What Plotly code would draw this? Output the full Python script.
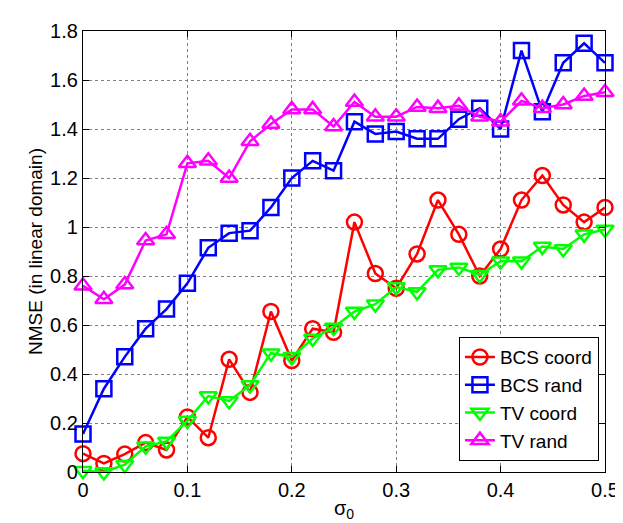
import plotly.graph_objects as go

sigma = [0.00, 0.02, 0.04, 0.06, 0.08, 0.10, 0.12, 0.14, 0.16, 0.18, 0.20, 0.22, 0.24,
         0.26, 0.28, 0.30, 0.32, 0.34, 0.36, 0.38, 0.40, 0.42, 0.44, 0.46, 0.48, 0.50]

bcs_coord = [0.075, 0.035, 0.073, 0.12, 0.09, 0.225, 0.14, 0.46, 0.325, 0.655, 0.455, 0.585, 0.57,
             1.02, 0.81, 0.75, 0.89, 1.11, 0.97, 0.80, 0.91, 1.11, 1.21, 1.09, 1.02, 1.08]
bcs_rand = [0.155, 0.34, 0.47, 0.585, 0.665, 0.77, 0.915, 0.975, 0.985, 1.08, 1.20, 1.27, 1.23,
            1.43, 1.38, 1.39, 1.36, 1.36, 1.44, 1.485, 1.40, 1.72, 1.47, 1.67, 1.75, 1.67]
tv_coord = [0.005, 0.0, 0.03, 0.105, 0.125, 0.21, 0.31, 0.29, 0.355, 0.485, 0.47, 0.545, 0.59,
            0.655, 0.685, 0.755, 0.735, 0.825, 0.835, 0.805, 0.86, 0.86, 0.92, 0.91, 0.97, 0.99]
tv_rand = [0.76, 0.705, 0.765, 0.945, 0.97, 1.26, 1.27, 1.20, 1.35, 1.42, 1.48, 1.48, 1.41,
           1.51, 1.45, 1.45, 1.49, 1.485, 1.495, 1.45, 1.43, 1.515, 1.485, 1.50, 1.535, 1.55]

series = [
    ("BCS coord", bcs_coord, "#FF0000", "circle-open"),
    ("BCS rand", bcs_rand, "#0000FF", "square-open"),
    ("TV coord", tv_coord, "#00FF00", "triangle-down-open"),
    ("TV rand", tv_rand, "#FF00FF", "triangle-up-open"),
]

fig = go.Figure()
for name, ys, color, sym in series:
    fig.add_trace(go.Scatter(
        x=sigma, y=ys, name=name, mode="lines+markers",
        line=dict(color=color, width=2.5),
        marker=dict(symbol=sym, size=15, color=color, line=dict(width=2.5, color=color)),
        cliponaxis=False,
    ))

axis_common = dict(
    showline=True, linecolor="black", linewidth=1.2, mirror="allticks",
    ticks="inside", ticklen=6, tickcolor="black",
    showgrid=True, gridcolor="#808080", griddash="dot", gridwidth=1,
    zeroline=False,
    tickfont=dict(family="Liberation Sans, Arial", size=20, color="black"),
)

fig.update_layout(
    width=623, height=523,
    margin=dict(l=75, r=16, t=13, b=59),
    plot_bgcolor="white", paper_bgcolor="white",
    font=dict(family="Liberation Sans, Arial", color="black"),
    xaxis=dict(range=[0, 0.5], tickvals=[0, 0.1, 0.2, 0.3, 0.4, 0.5],
               title=dict(text="σ<sub>0</sub>", font=dict(size=20), standoff=0), **axis_common),
    yaxis=dict(range=[0, 1.8], tickvals=[0, 0.2, 0.4, 0.6, 0.8, 1.0, 1.2, 1.4, 1.6, 1.8],
               title=dict(text="NMSE (in linear domain)", font=dict(size=19), standoff=2), **axis_common),
    legend=dict(x=0.988, y=0.025, xanchor="right", yanchor="bottom",
                bordercolor="black", borderwidth=1.2, bgcolor="white",
                font=dict(size=19), tracegroupgap=0, itemwidth=30),
    showlegend=True,
)

fig.write_html("out.html")
